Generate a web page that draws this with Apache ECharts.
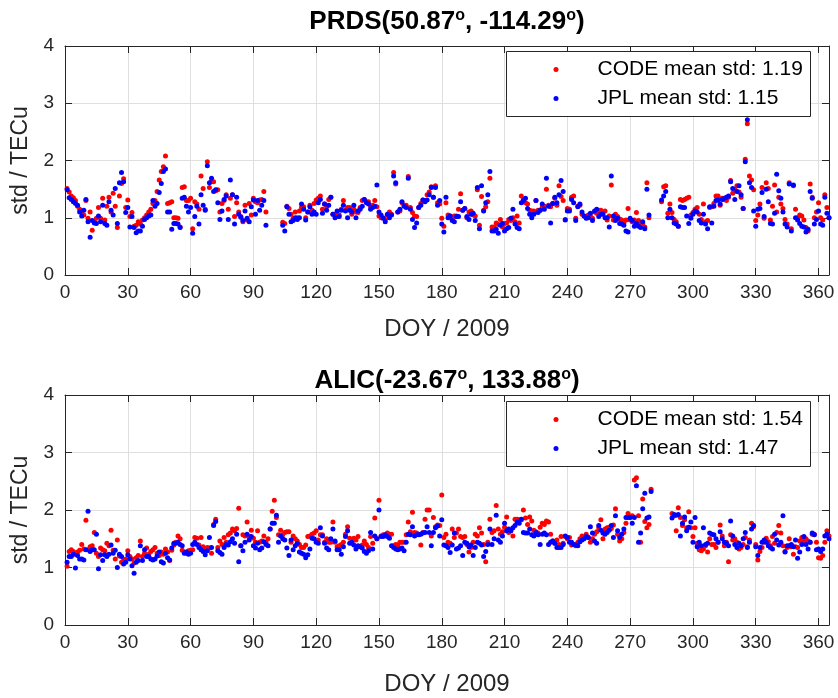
<!DOCTYPE html>
<html><head><meta charset="utf-8">
<script src="https://cdn.jsdelivr.net/npm/echarts@6/dist/echarts.min.js"></script>
<style>html,body{margin:0;padding:0;background:#fff}#c{width:838px;height:698px}</style>
</head><body><div id="c"></div>
<script>
// Day-of-year values (index 0 = DOY 1), null = no data
const prdsCode = [
1.51,1.45,1.38,1.35,1.3,1.2,1.15,1.1,1.05,1.3,
0.99,1.1,0.78,0.93,0.99,1.18,0.99,1.34,0.96,1.2,
1.36,1.1,1.43,1.2,0.83,1.38,1.6,1.68,1.18,1.31,
1.02,1.09,0.85,0.87,0.93,0.89,0.96,1.0,1.05,1.1,
1.15,1.25,1.3,1.46,1.66,1.81,1.89,2.08,1.25,1.26,
1.28,1.0,1.0,0.99,0.84,1.53,1.54,1.3,1.3,1.34,
0.81,1.28,1.24,1.15,1.73,1.51,1.15,1.98,1.53,1.63,
1.63,1.47,1.49,1.1,1.25,1.3,1.4,1.15,1.34,1.4,
1.02,1.26,1.1,1.02,0.93,1.22,0.96,1.25,1.05,1.34,
1.28,1.26,1.31,1.32,1.46,1.1,null,null,null,null,
null,null,null,0.92,0.9,1.2,1.16,1.06,0.99,1.1,
1.0,1.12,1.18,1.19,1.0,1.1,1.22,1.13,1.25,1.31,
1.34,1.38,1.15,1.24,1.19,1.32,1.36,1.06,1.06,1.02,
1.05,1.15,1.3,1.13,1.18,1.18,1.06,1.15,1.1,1.09,
1.18,1.3,1.32,1.28,1.28,1.19,1.22,1.3,1.19,1.03,
1.0,1.0,0.97,1.05,1.1,1.06,1.79,1.59,1.1,1.12,
1.26,1.22,1.22,1.72,1.18,1.09,1.03,1.02,1.18,1.25,
1.31,1.3,1.4,1.45,1.54,1.36,1.56,1.26,1.24,0.99,
0.85,1.26,1.05,1.03,0.99,1.03,1.03,1.15,1.42,1.13,
1.16,1.0,1.1,1.12,1.05,1.03,1.49,0.87,1.37,1.13,
1.19,1.28,1.69,0.84,0.84,0.91,0.88,0.97,0.84,0.9,
0.91,0.97,0.95,1.0,0.93,1.03,0.91,1.38,1.32,1.26,
1.24,1.13,1.12,1.12,1.3,1.13,1.13,1.18,1.2,1.5,
1.22,1.19,1.25,1.34,1.22,1.56,1.37,1.3,0.97,1.16,
1.15,1.36,1.38,0.99,1.2,1.22,1.06,1.03,1.0,1.05,
1.03,0.99,1.1,1.08,1.13,1.13,1.09,1.12,0.96,1.03,
1.57,0.96,1.06,1.02,0.98,0.96,0.91,0.96,1.16,0.96,
0.93,0.96,1.09,0.95,0.91,0.9,0.84,1.61,1.0,null,
null,null,null,null,1.28,1.54,1.56,1.08,1.24,1.09,
0.97,0.93,0.85,1.32,1.3,1.32,1.34,1.36,1.05,1.09,
1.15,1.18,1.06,0.97,1.24,0.93,0.95,1.18,1.19,1.25,
1.38,1.38,1.22,1.34,1.32,1.3,1.36,1.65,1.43,1.5,
1.56,1.45,1.36,1.16,2.02,2.64,1.73,1.66,1.49,0.95,
1.05,1.24,1.53,0.99,1.61,1.51,0.96,1.2,1.57,1.1,
1.36,1.24,1.16,0.97,0.89,1.61,0.81,1.56,1.15,1.0,
1.05,1.03,0.96,0.83,0.77,1.59,1.36,1.0,1.1,1.26,
1.0,0.96,1.4,1.18,1.0];
const prdsJpl = [
1.49,1.35,1.32,1.28,1.25,1.22,1.1,1.03,1.13,1.32,
0.93,0.66,0.95,0.91,0.9,1.03,0.93,1.22,0.9,0.87,
1.28,1.13,1.05,1.51,0.9,1.61,1.79,1.63,1.09,1.18,
0.84,1.02,0.83,0.74,0.77,0.77,0.85,0.97,1.0,1.03,
1.05,1.3,1.2,1.25,1.44,1.6,1.81,1.85,1.1,1.1,
0.8,0.9,0.9,0.89,0.83,1.34,1.36,1.2,1.1,1.18,
0.73,1.02,1.2,0.89,1.4,1.22,1.13,1.91,1.61,1.69,
1.46,1.49,1.26,0.97,1.12,1.32,1.38,0.97,1.66,1.4,
0.89,1.36,1.06,1.01,0.95,1.12,0.99,0.93,1.19,1.31,
1.06,1.3,1.13,1.22,1.3,0.87,null,null,null,null,
null,null,null,0.87,0.77,1.19,1.06,0.93,0.95,1.0,
0.97,1.0,1.24,1.15,0.96,1.1,1.19,1.06,1.1,1.06,
1.26,1.32,1.08,1.24,1.13,1.22,1.36,1.06,1.0,1.12,
1.02,1.13,1.22,1.12,1.0,1.13,1.1,1.22,1.0,1.12,
1.15,1.2,1.32,1.26,1.24,1.15,1.18,1.2,1.57,1.1,
1.05,0.99,0.93,1.06,1.0,1.05,1.73,1.61,1.1,1.15,
1.28,1.2,1.18,1.69,1.15,0.97,0.83,0.91,1.18,1.22,
1.31,1.28,1.31,1.4,1.53,1.36,1.53,1.22,1.3,0.89,
0.75,1.36,1.0,1.03,0.95,0.93,1.02,1.02,1.28,1.13,
1.16,1.02,0.97,1.06,1.08,0.95,1.53,0.81,1.56,1.12,
1.26,1.4,1.81,0.77,0.77,0.8,0.73,0.87,0.9,0.77,
0.81,0.83,0.99,1.15,0.89,0.83,0.81,1.26,1.3,1.34,
1.16,1.06,1.0,1.06,1.3,1.09,1.13,1.24,1.15,1.69,
1.2,0.91,1.25,1.36,1.26,1.4,1.65,1.46,0.96,1.12,
1.12,1.32,1.26,0.95,1.19,1.24,1.1,1.03,0.99,1.0,
1.08,0.95,1.12,1.15,1.02,1.06,1.06,1.0,1.0,0.84,
1.73,1.03,0.95,0.99,0.9,0.89,0.87,0.77,0.75,0.99,
0.95,0.85,0.9,0.85,0.83,0.93,0.81,1.5,1.05,null,
null,null,null,null,1.31,1.38,1.46,1.0,1.15,1.0,
0.91,0.89,0.85,1.19,1.18,1.18,1.03,0.9,0.99,1.06,
1.12,1.1,0.95,0.91,1.06,0.89,0.81,1.19,0.91,1.2,
1.3,1.31,1.24,1.32,1.34,1.36,1.38,1.63,1.51,1.32,
1.46,1.56,1.4,1.16,1.98,2.71,1.61,1.53,1.12,0.85,
1.15,1.16,1.44,1.02,1.5,1.28,0.9,0.89,1.08,1.76,
1.47,1.34,1.1,0.89,0.84,1.59,0.77,1.57,1.0,0.96,
0.9,0.85,0.84,0.75,0.8,1.46,1.34,0.89,0.97,1.12,
0.89,0.87,1.36,1.08,1.0];
const alicCode = [
1.02,1.28,1.31,1.28,1.23,1.27,1.3,1.4,1.32,1.82,
1.31,1.36,1.38,1.61,1.25,1.19,1.34,1.31,1.29,1.42,
1.38,1.65,1.3,1.15,1.48,1.2,1.09,1.13,1.15,1.29,
1.19,1.15,1.08,1.17,1.21,1.46,1.19,1.25,1.34,1.23,
1.28,1.31,1.35,1.25,1.21,1.27,1.23,1.32,1.27,1.12,
1.3,1.39,1.44,1.55,1.5,1.3,1.27,1.25,1.29,1.3,
1.31,1.52,1.51,1.39,1.52,1.36,1.31,1.35,1.34,1.25,
1.75,1.84,1.35,1.46,1.4,1.52,1.44,1.57,1.6,1.67,
1.64,1.68,2.03,1.38,1.57,1.55,1.79,1.54,1.65,1.51,
1.44,1.64,1.44,1.46,1.55,1.44,1.5,1.67,1.98,2.17,
1.87,1.57,1.65,1.57,1.61,1.62,1.62,1.44,1.55,1.5,
1.46,1.4,1.35,1.35,1.39,1.54,1.55,1.58,1.6,1.64,
1.48,1.57,1.57,1.44,1.5,1.44,1.44,1.79,1.44,1.36,
1.38,1.4,1.44,1.58,1.71,1.51,1.42,1.51,1.48,1.54,
1.36,1.39,1.46,1.4,1.35,1.54,1.42,1.86,1.5,2.17,
1.55,1.57,1.57,1.6,1.58,1.58,1.38,1.4,1.39,1.44,
1.44,1.44,1.57,1.79,1.62,1.96,1.61,1.6,1.58,1.39,
1.61,1.84,2.0,2.0,1.55,1.87,1.71,1.74,1.73,2.26,
1.52,1.58,1.44,1.42,1.67,1.52,1.6,1.67,1.54,1.52,
1.54,1.4,1.27,1.35,1.44,1.58,1.55,1.69,1.6,1.4,
1.1,1.44,1.84,1.61,1.64,2.08,1.67,1.58,1.62,1.7,
1.88,1.61,1.64,1.55,1.84,1.84,1.83,1.83,2.0,1.86,
1.75,1.88,1.81,1.65,1.62,1.6,1.7,1.77,1.75,1.81,
1.79,1.58,1.46,1.42,1.48,1.4,1.54,1.42,1.54,1.5,
1.52,1.39,1.4,1.38,1.44,1.5,1.55,1.52,1.58,1.52,
1.44,1.5,1.58,1.62,1.69,1.83,1.5,1.67,1.69,1.7,
1.68,1.74,2.02,1.58,1.46,1.5,1.61,1.77,1.94,1.88,
1.9,2.52,2.56,1.9,1.44,2.19,1.8,1.69,1.75,2.36,
null,null,null,null,null,null,null,null,null,1.94,
1.9,1.64,2.04,1.87,1.73,1.83,1.69,1.97,1.69,1.54,
1.69,1.42,1.31,1.29,1.32,1.38,1.27,1.5,1.4,1.4,
1.35,1.44,1.74,1.55,1.38,1.44,1.1,1.57,1.48,1.5,
1.44,1.32,1.35,1.4,1.52,1.36,1.48,1.77,1.71,1.4,
1.13,1.28,1.35,1.44,1.51,1.45,1.38,1.54,1.42,1.61,
1.73,1.6,1.38,1.28,1.35,1.5,1.36,1.23,1.36,1.35,
1.46,1.52,1.46,1.5,1.46,1.44,1.58,1.58,1.44,1.17,
1.16,1.21,1.44,1.64,1.55];
const alicJpl = [
1.09,1.19,1.19,1.23,0.99,1.21,1.15,1.15,1.13,1.31,
1.98,1.28,1.31,1.31,1.58,0.98,1.22,1.12,1.22,1.19,
1.23,1.39,1.25,1.3,1.0,1.23,1.19,1.06,1.09,1.22,
1.15,1.03,0.9,1.09,1.12,1.38,1.12,1.31,1.19,1.19,
1.15,1.13,1.15,1.2,1.27,1.1,1.08,1.25,1.17,1.13,
1.34,1.42,1.42,1.44,1.4,1.38,1.25,1.27,1.23,1.25,
1.4,1.44,1.4,1.35,1.31,1.28,1.22,1.29,1.52,1.35,
1.73,1.8,1.29,1.26,1.23,1.35,1.4,1.39,1.45,1.5,
1.42,1.58,1.1,1.38,1.29,1.44,1.58,1.48,1.54,1.38,
1.34,1.42,1.31,1.34,1.45,1.4,1.38,1.67,1.77,1.77,
1.91,1.44,1.55,1.5,1.48,1.34,1.21,1.48,1.31,1.38,
1.42,1.27,1.25,1.23,1.17,1.22,1.32,1.51,1.5,1.44,
1.42,1.69,1.55,1.42,1.34,1.31,1.5,1.67,1.46,1.31,
1.31,1.23,1.36,1.54,1.64,1.42,1.44,1.39,1.32,1.38,
1.36,1.34,1.28,1.25,1.29,1.61,1.32,1.55,1.5,2.0,
1.54,1.54,1.57,1.54,1.51,1.38,1.35,1.32,1.31,1.32,
1.34,1.29,1.44,1.58,1.57,1.71,1.55,1.57,1.57,1.58,
1.6,1.61,1.71,1.61,1.38,1.61,1.69,1.72,1.55,1.83,
1.39,1.38,1.35,1.26,1.39,1.6,1.32,1.34,1.38,1.21,
1.44,1.42,1.36,1.39,1.21,1.35,1.44,1.42,1.39,1.19,
1.28,1.4,1.67,1.4,1.5,1.91,1.48,1.44,1.55,1.77,
1.64,1.67,1.64,1.69,1.73,1.79,1.77,1.84,1.61,1.6,
1.6,1.67,1.57,1.55,1.61,1.57,1.4,1.58,1.6,1.57,
1.4,1.44,1.46,1.42,1.35,1.35,1.35,1.4,1.55,1.52,
1.44,1.44,1.4,1.39,1.38,1.45,1.48,1.5,1.54,1.52,
1.71,1.6,1.46,1.42,1.73,1.65,1.6,1.58,1.61,1.65,
1.73,1.52,1.9,1.64,1.52,1.58,1.67,1.87,1.87,1.87,
1.77,1.87,2.42,1.44,1.6,2.02,2.29,1.86,1.88,2.32,
null,null,null,null,null,null,null,null,null,1.86,
1.92,1.91,1.92,1.55,1.77,1.88,1.64,1.7,1.79,1.44,
1.87,1.36,1.44,1.38,1.69,1.4,1.42,1.6,1.58,1.57,
1.5,1.44,1.62,1.5,1.44,1.42,1.38,1.81,1.55,1.4,
1.35,1.42,1.38,1.5,1.61,1.35,1.44,1.67,1.73,1.36,
1.21,1.35,1.44,1.48,1.44,1.38,1.35,1.32,1.58,1.48,
1.39,1.44,1.9,1.27,1.38,1.38,1.4,1.36,1.48,1.16,
1.27,1.4,1.54,1.4,1.32,1.44,1.6,1.57,1.31,1.32,
1.28,1.32,1.55,1.58,1.5];

const titles = ['PRDS(50.87{s|o}, -114.29{s|o})', 'ALIC(-23.67{s|o}, 133.88{s|o})'];
const codeNames = ['CODE mean std: 1.19', 'CODE mean std: 1.54'];
const jplNames = ['JPL mean std: 1.15', 'JPL mean std: 1.47'];
const xName = 'DOY / 2009';
const yName = 'std / TECu';

const SANS = '"Liberation Sans",Arial,Helvetica,sans-serif';
const AX = '#262626';
const GRIDC = '#dfdfdf';

function pts(arr){ const out=[]; arr.forEach((v,i)=>{ if(v!=null) out.push([i+1, v]); }); return out; }

const grids = [
  {left:65, right:9, top:46, height:229},
  {left:65, right:9, top:395, height:230}
];
const xNameGap = [42, 47];
const xAxis = [], yAxis = [], series = [], legend = [], graphic = [];
[0,1].forEach(g=>{
  xAxis.push({gridIndex:g, type:'value', min:0, max:365, interval:30, position:'bottom',
    axisLine:{show:true, onZero:false, lineStyle:{color:AX, width:1}},
    axisTick:{show:true, inside:true, length:7, lineStyle:{color:AX}},
    axisLabel:{show:true, color:AX, fontSize:19, fontFamily:SANS, margin:8, showMaxLabel:false},
    splitLine:{show:true, lineStyle:{color:GRIDC, width:1}},
    name:xName, nameLocation:'middle', nameGap:xNameGap[g],
    nameTextStyle:{color:AX, fontSize:24, fontFamily:SANS}});
  xAxis.push({gridIndex:g, type:'value', min:0, max:365, interval:30, position:'top',
    axisLine:{show:true, onZero:false, lineStyle:{color:AX, width:1}},
    axisTick:{show:true, inside:true, length:7, lineStyle:{color:AX}},
    axisLabel:{show:false}, splitLine:{show:false}});
  yAxis.push({gridIndex:g, type:'value', min:0, max:4, interval:1, position:'left',
    axisLine:{show:true, onZero:false, lineStyle:{color:AX, width:1}},
    axisTick:{show:true, inside:true, length:7, lineStyle:{color:AX}},
    axisLabel:{show:true, color:AX, fontSize:19, fontFamily:SANS, margin:11},
    splitLine:{show:true, lineStyle:{color:GRIDC, width:1}},
    name:yName, nameLocation:'middle', nameGap:29, nameRotate:90,
    nameTextStyle:{color:AX, fontSize:23, fontFamily:SANS}});
  yAxis.push({gridIndex:g, type:'value', min:0, max:4, interval:1, position:'right',
    axisLine:{show:true, onZero:false, lineStyle:{color:AX, width:1}},
    axisTick:{show:true, inside:true, length:7, lineStyle:{color:AX}},
    axisLabel:{show:false}, splitLine:{show:false}});
});
const dataSets = [[prdsCode, prdsJpl],[alicCode, alicJpl]];
[0,1].forEach(g=>{
  series.push({type:'scatter', name:codeNames[g], xAxisIndex:g*2, yAxisIndex:g*2,
    data:pts(dataSets[g][0]), symbol:'circle', symbolSize:5, itemStyle:{color:'#ff0000', opacity:1}, z:2, silent:true});
  series.push({type:'scatter', name:jplNames[g], xAxisIndex:g*2, yAxisIndex:g*2,
    data:pts(dataSets[g][1]), symbol:'circle', symbolSize:5, itemStyle:{color:'#0000ff', opacity:1}, z:2, silent:true});
});
const legTops = [59, 409];
const boxTops = [51.5, 401.5];
[0,1].forEach(g=>{
  legend.push({orient:'vertical', left:553.5, top:legTops[g], itemWidth:5, itemHeight:5, itemGap:8,
    icon:'circle', selectedMode:false, padding:0, z:5,
    data:[codeNames[g], jplNames[g]],
    textStyle:{color:'#000', fontSize:21, fontFamily:SANS, padding:[0,0,0,34]}});
  graphic.push({type:'rect', z:4, shape:{x:506.5, y:boxTops[g], width:304, height:65},
    style:{fill:'#fff', stroke:AX, lineWidth:1}});
});
const titleY = [22, 381];
[0,1].forEach(g=>{
  graphic.push({type:'text', z:5, x:447, y:titleY[g], style:{
    text:'{t|' + titles[g].replace(/\{s\|o\}/g, '}{s|o}{t|') + '}',
    align:'center', verticalAlign:'middle',
    rich:{ t:{fontSize:26, fontWeight:'bold', fontFamily:SANS, fill:'#000', lineHeight:28},
           s:{fontSize:16, fontWeight:'bold', fontFamily:SANS, fill:'#000', lineHeight:13, verticalAlign:'top'} }
  }});
});

const chart = echarts.init(document.getElementById('c'), null, {renderer:'canvas'});
chart.setOption({animation:false, backgroundColor:'#fff', grid:grids, xAxis, yAxis, series, legend, graphic});
</script></body></html>
